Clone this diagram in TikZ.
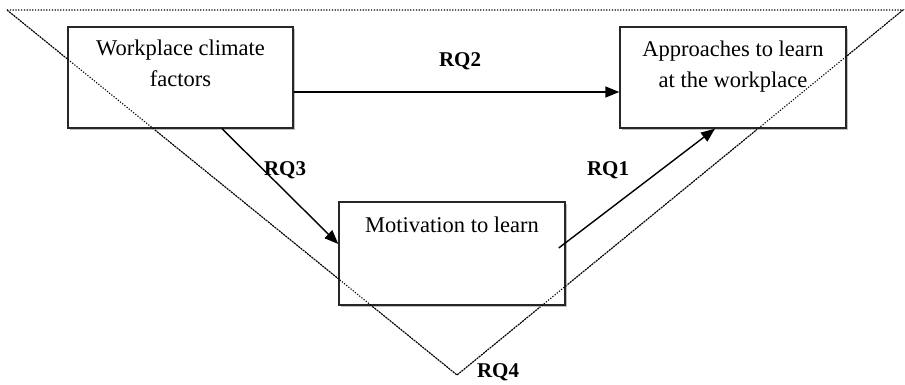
\documentclass[tikz,border=0pt]{standalone}
\usepackage{fontspec}
\setmainfont{Liberation Serif}
\usetikzlibrary{arrows.meta,shadows}
\begin{document}
\begin{tikzpicture}[x=1pt,y=1pt,
  box/.style={draw=black!85, line width=1.4pt, minimum width=#1, inner sep=0pt,
     drop shadow={shadow xshift=1.5pt, shadow yshift=-2pt, fill=black!25, opacity=1}, fill=white},
  txt/.style={anchor=north, inner sep=0pt, align=center, font=\fontsize{22.5}{31}\selectfont},
  rq/.style={font=\fontsize{21}{24}\selectfont\bfseries, inner sep=0pt},
  arr/.style={line width=1.4pt, -{Triangle[length=14pt,width=11pt]}},
  tri/.style={dash pattern=on 1.2pt off 1.6pt, line width=1.1pt, black}]
\useasboundingbox (0,0) rectangle (905,384);
% dotted triangle
\coordinate (t1) at (7,374);
\coordinate (t2) at (903,374);
\coordinate (t3) at (457,9);
\draw[tri] (t1) -- (t2) -- (t3) -- cycle;
% boxes
\node[box=225pt, minimum height=101pt] (L) at (180.5,306.5) {};
\node[box=226pt, minimum height=101pt] (R) at (733,306.5) {};
\node[box=226pt, minimum height=103pt] (M) at (452,130.5) {};
\draw[tri] (t1) -- (t3) -- (t2);
% texts
\node[txt] (Lt) at ([yshift=-13pt]L.north) {Workplace climate\\factors};
\node[txt] (Rt) at ([yshift=-14pt]R.north) {Approaches to learn\\at the workplace};
\node[txt] (Mt) at ([yshift=-15pt]M.north) {Motivation to learn};
% arrows
\draw[arr] ([yshift=-14.5pt]L.east) -- ([yshift=-14.5pt]R.west);
\draw[arr] ([xshift=41.5pt]L.south) -- ([yshift=9.5pt]M.west);
\draw[arr] ([xshift=-7pt,yshift=5.5pt]M.east) -- ([xshift=-18pt]R.south);
% labels
\node[rq] (q2) at (460,323) {RQ2};
\node[rq] (q3) at (285,214) {RQ3};
\node[rq] (q1) at (608,214) {RQ1};
\node[rq] (q4) at (498,12) {RQ4};
\end{tikzpicture}
\end{document}
